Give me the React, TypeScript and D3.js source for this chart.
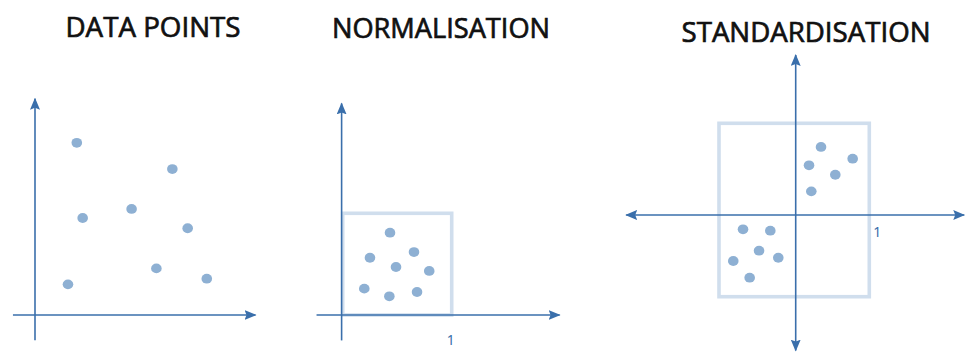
import React from 'react';
import * as d3 from 'd3';

// raw data points (arbitrary units)
const rawX = [1.99, 6.54, 4.6, 2.27, 7.27, 5.78, 8.18, 1.57];
const rawY = [8.2, 6.95, 5.05, 4.62, 4.13, 2.22, 1.73, 1.46];

// min-max normalised points (0..1)
const normX = [0.434, 0.25, 0.654, 0.489, 0.794, 0.198, 0.428, 0.682];
const normY = [0.809, 0.563, 0.619, 0.472, 0.433, 0.259, 0.184, 0.226];

// standardised points (z-scores, two clusters)
const stdX = [0.344, 0.774, 0.181, 0.538, 0.212, -0.687, -0.331, -0.478, -0.227, -0.814, -0.6];
const stdY = [0.742, 0.614, 0.542, 0.439, 0.258, -0.175, -0.192, -0.437, -0.523, -0.563, -0.767];

const titles = ['DATA POINTS', 'NORMALISATION', 'STANDARDISATION'];
const unitLabel = '1';

const AXIS = '#3a6fab';
const DOT = '#8eb0d3';
const BOX = '#d0deed';
const TITLE_FONT = "'Open Sans', 'DejaVu Sans', sans-serif";

const zip = (xs: number[], ys: number[]) => xs.map((x, i) => ({ x, y: ys[i] }));

function Dots({ pts, x, y }: { pts: { x: number; y: number }[]; x: any; y: any }) {
  return (
    <g>
      {pts.map((d, i) => (
        <ellipse key={i} cx={x(d.x)} cy={y(d.y)} rx={5.3} ry={4.9} fill={DOT} />
      ))}
    </g>
  );
}

export default function App() {
  // panel 1
  const x1 = d3.scaleLinear().domain([0, 10]).range([35, 245]);
  const y1 = d3.scaleLinear().domain([0, 10]).range([315, 105]);

  // panel 2
  const x2 = d3.scaleLinear().domain([0, 1]).range([342.7, 451.7]);
  const y2 = d3.scaleLinear().domain([0, 1]).range([315, 213.3]);

  // panel 3
  const x3 = d3.scaleLinear().domain([-1, 0, 1]).range([719, 795.7, 869.3]);
  const y3 = d3.scaleLinear().domain([-1, 0, 1]).range([296.7, 215, 123.3]);

  const line = (xa: number, ya: number, xb: number, yb: number, start = false) => (
    <line
      x1={xa}
      y1={ya}
      x2={xb}
      y2={yb}
      stroke={AXIS}
      strokeWidth={1.6}
      markerEnd="url(#arr)"
      markerStart={start ? 'url(#arrs)' : undefined}
    />
  );

  return (
    <svg width={966} height={352} style={{ position: 'absolute', left: 0, top: 0, background: '#fff' }}>
      <defs>
        <marker id="arr" viewBox="0 0 12 10" refX={11} refY={5} markerWidth={12} markerHeight={10}
          markerUnits="userSpaceOnUse" orient="auto">
          <path d="M0,0 L12,5 L0,10 L2,5 Z" fill={AXIS} />
        </marker>
        <marker id="arrs" viewBox="0 0 12 10" refX={11} refY={5} markerWidth={12} markerHeight={10}
          markerUnits="userSpaceOnUse" orient="auto-start-reverse">
          <path d="M0,0 L12,5 L0,10 L2,5 Z" fill={AXIS} />
        </marker>
      </defs>

      {/* titles */}
      <g fontFamily={TITLE_FONT} fontSize={28} fill="#111" stroke="#111" strokeWidth={0.7}
        textAnchor="middle">
        <text x={153} y={37} textLength={175} lengthAdjust="spacingAndGlyphs">{titles[0]}</text>
        <text x={441} y={37.5} textLength={218} lengthAdjust="spacingAndGlyphs">{titles[1]}</text>
        <text x={806} y={41.5} textLength={249} lengthAdjust="spacingAndGlyphs">{titles[2]}</text>
      </g>

      {/* panel 1 */}
      {line(x1(0), y1(-1.2), x1(0), y1(10.3))}
      {line(x1(-1.05), y1(0), x1(10.5), y1(0))}
      <Dots pts={zip(rawX, rawY)} x={x1} y={y1} />

      {/* panel 2 */}
      <rect x={x2(0)} y={y2(1)} width={x2(1) - x2(0)} height={y2(0) - y2(1)}
        fill="none" stroke={BOX} strokeWidth={3.6} />
      {line(x2(-0.01), y2(-0.25), x2(-0.01), y2(2.08))}
      {line(x2(-0.24), y2(0), x2(1.99), y2(0))}
      <Dots pts={zip(normX, normY)} x={x2} y={y2} />
      <text x={x2(1) - 1} y={345} fontFamily="'Noto Sans', sans-serif" fontSize={14}
        fill={AXIS} textAnchor="middle">{unitLabel}</text>

      {/* panel 3 */}
      <rect x={x3(-1)} y={y3(1)} width={x3(1) - x3(-1)} height={y3(-1) - y3(1)}
        fill="none" stroke={BOX} strokeWidth={3.6} />
      {line(x3(0), y3(-1.66), x3(0), y3(1.745), true)}
      {line(x3(-2.21), y3(0), x3(2.29), y3(0), true)}
      <Dots pts={zip(stdX, stdY)} x={x3} y={y3} />
      <text x={x3(1) + 4} y={237} fontFamily="'Noto Sans', sans-serif" fontSize={14}
        fill={AXIS}>{unitLabel}</text>
    </svg>
  );
}
